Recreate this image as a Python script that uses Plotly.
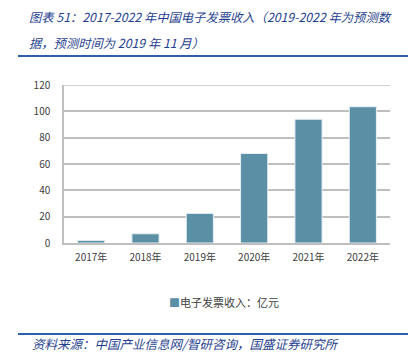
import plotly.graph_objects as go

categories = ["2017年", "2018年", "2019年", "2020年", "2021年", "2022年"]
values = [2, 7, 22.5, 68, 94, 103.5]
series_name = "电子发票收入：亿元"
title_line1 = "图表 51：2017-2022 年中国电子发票收入（2019-2022 年为预测数"
title_line2 = "据，预测时间为 2019 年 11 月）"
source_text = "资料来源：中国产业信息网/智研咨询，国盛证券研究所"

W, H = 408, 363
ML, MR, MT, MB = 64, 18, 85, 120
PW, PH = W - ML - MR, H - MT - MB

def px(x):
    return (x - ML) / PW

def py(y):
    return (H - MB - y) / PH

BAR = "#5B8FA6"
NAVY = "#1F3F8F"
FONT = "Noto Sans CJK SC, Liberation Sans, sans-serif"

fig = go.Figure()
fig.add_trace(go.Bar(
    x=categories, y=values, name=series_name,
    marker=dict(color=BAR, line=dict(color="#E8F0F4", width=1)),
    showlegend=False,
))

fig.update_layout(
    width=W, height=H,
    margin=dict(l=ML, r=MR, t=MT, b=MB),
    paper_bgcolor="white", plot_bgcolor="white",
    bargap=0.5,
    font=dict(family=FONT, color="#404040", size=10),
    xaxis=dict(showgrid=False, showline=True, linecolor="#BFBFBF", linewidth=1.5,
               ticks="", ticklabelstandoff=4, tickfont=dict(size=10, color="#404040")),
    yaxis=dict(range=[0, 120], tickvals=[0, 20, 40, 60, 80, 100, 120],
               showgrid=True, gridcolor="#BFBFBF", gridwidth=1.5,
               showline=True, linecolor="#BFBFBF", linewidth=1.5,
               zeroline=False, ticks="", ticklabelstandoff=10,
               tickfont=dict(size=10, color="#404040")),
)

# top gridline at 120 (ensure visible)
fig.add_shape(type="line", xref="paper", yref="y", x0=0, x1=1, y0=120, y1=120,
              line=dict(color="#BFBFBF", width=1.5))

# legend (marker + label)
fig.add_annotation(text="<span style='color:%s'>■</span>%s" % (BAR, series_name),
                   xref="paper", yref="paper", x=px(167), y=py(302),
                   xanchor="left", yanchor="middle", showarrow=False,
                   font=dict(size=11, color="#404040", family=FONT))

# Title
fig.add_annotation(text="<i>" + title_line1 + "</i>", xref="paper", yref="paper",
                   x=px(27), y=py(17), xanchor="left", yanchor="middle", showarrow=False,
                   font=dict(size=12.3, color=NAVY, family=FONT))
fig.add_annotation(text="<i>" + title_line2 + "</i>", xref="paper", yref="paper",
                   x=px(27), y=py(43), xanchor="left", yanchor="middle", showarrow=False,
                   font=dict(size=12.3, color=NAVY, family=FONT))
# title rule
fig.add_shape(type="line", xref="paper", yref="paper", x0=px(18), x1=px(408),
              y0=py(56), y1=py(56), line=dict(color="#2E5FAA", width=2))
# source rule
fig.add_shape(type="line", xref="paper", yref="paper", x0=px(18), x1=px(408),
              y0=py(334), y1=py(334), line=dict(color="#2E5FAA", width=2))
fig.add_annotation(text="<i>" + source_text + "</i>", xref="paper", yref="paper",
                   x=px(30), y=py(343), xanchor="left", yanchor="middle", showarrow=False,
                   font=dict(size=12.5, color=NAVY, family=FONT))

fig.write_html("out.html")
